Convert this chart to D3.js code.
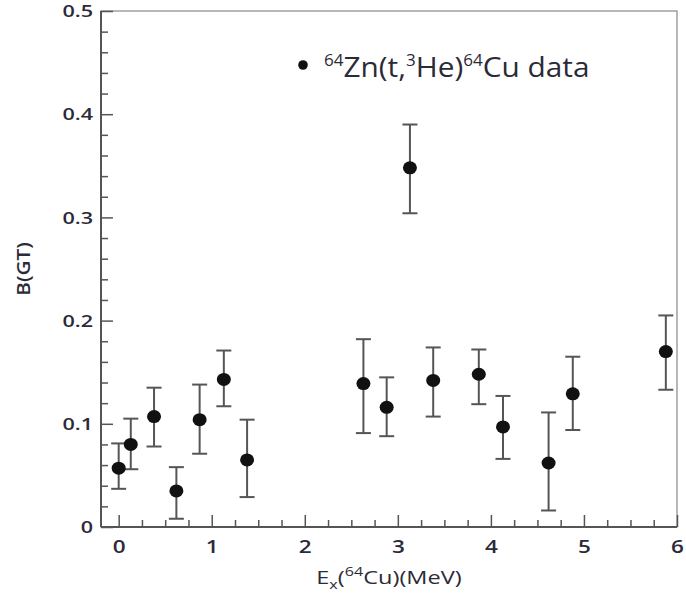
<!DOCTYPE html>
<html><head><meta charset="utf-8">
<script src="https://cdn.jsdelivr.net/npm/d3@7"></script>
<style>body{margin:0;background:#fff;} svg{display:block;}</style>
</head><body>
<svg id="c" width="686" height="594"></svg>
<script>
// Data: excitation energy (MeV), B(GT), upper/lower error ends
const ex      = [0.00, 0.13, 0.38, 0.62, 0.87, 1.13, 1.38, 2.63, 2.88, 3.13, 3.38, 3.87, 4.13, 4.62, 4.88, 5.88];
const bgt     = [0.057, 0.080, 0.107, 0.035, 0.104, 0.143, 0.065, 0.139, 0.116, 0.348, 0.142, 0.148, 0.097, 0.062, 0.129, 0.170];
const errHigh = [0.081, 0.105, 0.135, 0.058, 0.138, 0.171, 0.104, 0.182, 0.145, 0.390, 0.174, 0.172, 0.127, 0.111, 0.165, 0.205];
const errLow  = [0.037, 0.056, 0.078, 0.008, 0.071, 0.117, 0.029, 0.091, 0.088, 0.304, 0.107, 0.119, 0.066, 0.016, 0.094, 0.133];
const xTicks = [0, 1, 2, 3, 4, 5, 6];
const yTicks = [0, 0.1, 0.2, 0.3, 0.4, 0.5];

const svg = d3.select("#c");
const L = 101, R = 677, T = 11, B = 527;
const x = d3.scaleLinear().domain([-0.19, 6]).range([L, R]);
const y = d3.scaleLinear().domain([0, 0.5]).range([B, T]);
const font = "'Open Sans', 'Noto Sans', sans-serif";
const axisCol = "#555";
const txtCol = "#2b2b38";

// frame
svg.append("rect").attr("x", L).attr("y", T).attr("width", R - L).attr("height", B - T)
  .attr("fill", "none").attr("stroke", "#888").attr("stroke-width", 1.2);
svg.append("line").attr("x1", L).attr("x2", L).attr("y1", T).attr("y2", B).attr("stroke", axisCol).attr("stroke-width", 2);
svg.append("line").attr("x1", L).attr("x2", R).attr("y1", B).attr("y2", B).attr("stroke", axisCol).attr("stroke-width", 2);

// y axis ticks (inward)
const yAxis = d3.axisRight(y).tickValues(yTicks).tickSize(12).tickFormat("");
const gy = svg.append("g").attr("transform", `translate(${L},0)`).call(yAxis);
gy.select(".domain").remove();
gy.selectAll("line").attr("stroke", axisCol).attr("stroke-width", 1.5);
const yMinor = d3.axisRight(y).tickValues(d3.range(0, 0.5001, 0.02).filter(v => Math.abs(v * 10 - Math.round(v * 10)) > 1e-6)).tickSize(7).tickFormat("");
const gym = svg.append("g").attr("transform", `translate(${L},0)`).call(yMinor);
gym.select(".domain").remove();
gym.selectAll("line").attr("stroke", axisCol).attr("stroke-width", 1.5);
gy.selectAll(".tick").append("text").attr("transform", "translate(-8,0) scale(1.35,1)").attr("dy", "0.36em")
  .attr("text-anchor", "end").attr("fill", txtCol).style("font-family", font).style("font-size", "16px")
  .style("font-weight", 600)
  .text(d => d === 0 ? "0" : d3.format(".1f")(d));

// x axis ticks (inward)
const xAxis = d3.axisTop(x).tickValues(xTicks).tickSize(12).tickFormat("");
const gx = svg.append("g").attr("transform", `translate(0,${B})`).call(xAxis);
gx.select(".domain").remove();
gx.selectAll("line").attr("stroke", axisCol).attr("stroke-width", 1.5);
const xMinor = d3.axisTop(x).tickValues(d3.range(0, 6, 0.25).filter(v => v % 1 !== 0)).tickSize(7).tickFormat("");
const gxm = svg.append("g").attr("transform", `translate(0,${B})`).call(xMinor);
gxm.select(".domain").remove();
gxm.selectAll("line").attr("stroke", axisCol).attr("stroke-width", 1.5);
gx.selectAll(".tick").append("text").attr("transform", "translate(0,26) scale(1.25,1)")
  .attr("text-anchor", "middle").attr("fill", txtCol).style("font-family", font).style("font-size", "18px")
  .style("font-weight", 600)
  .text(d => d);

// axis titles
svg.append("text").attr("transform", "translate(30,269) rotate(-90) scale(1.15,1)").attr("text-anchor", "middle")
  .attr("fill", txtCol).style("font-family", font).style("font-size", "18px").style("font-weight", 600).text("B(GT)");
const xt = svg.append("text").attr("transform", "translate(389,584) scale(1.24,1)").attr("text-anchor", "middle")
  .attr("fill", txtCol).style("font-family", font).style("font-size", "19px").style("font-weight", 500);
xt.append("tspan").text("E");
xt.append("tspan").attr("dy", 5).style("font-size", "13px").text("x");
xt.append("tspan").attr("dy", -5).text("(");
xt.append("tspan").attr("dy", -8).style("font-size", "13px").text("64");
xt.append("tspan").attr("dy", 8).text("Cu)(MeV)");

// data
const data = ex.map((e, i) => ({e, v: bgt[i], hi: errHigh[i], lo: errLow[i]}));
const errCol = "#555", cap = 7.5;
const g = svg.append("g");
g.selectAll(".eb").data(data).join("line").attr("class", "eb")
  .attr("x1", d => x(d.e)).attr("x2", d => x(d.e)).attr("y1", d => y(d.hi)).attr("y2", d => y(d.lo))
  .attr("stroke", errCol).attr("stroke-width", 2);
g.selectAll(".ct").data(data).join("line").attr("class", "ct")
  .attr("x1", d => x(d.e) - cap).attr("x2", d => x(d.e) + cap).attr("y1", d => y(d.hi)).attr("y2", d => y(d.hi))
  .attr("stroke", errCol).attr("stroke-width", 2);
g.selectAll(".cb").data(data).join("line").attr("class", "cb")
  .attr("x1", d => x(d.e) - cap).attr("x2", d => x(d.e) + cap).attr("y1", d => y(d.lo)).attr("y2", d => y(d.lo))
  .attr("stroke", errCol).attr("stroke-width", 2);
g.selectAll(".pt").data(data).join("ellipse").attr("class", "pt")
  .attr("cx", d => x(d.e)).attr("cy", d => y(d.v)).attr("rx", 7).attr("ry", 6.5).attr("fill", "#111");

// legend
svg.append("circle").attr("cx", 303).attr("cy", 65).attr("r", 4.8).attr("fill", "#111");
const lt = svg.append("text").attr("transform", "translate(324,77) scale(1.065,1)").attr("fill", txtCol)
  .style("font-family", font).style("font-size", "28px");
lt.append("tspan").attr("dy", -11).style("font-size", "16px").text("64");
lt.append("tspan").attr("dy", 11).text("Zn(t,");
lt.append("tspan").attr("dy", -11).style("font-size", "16px").text("3");
lt.append("tspan").attr("dy", 11).text("He)");
lt.append("tspan").attr("dy", -11).style("font-size", "16px").text("64");
lt.append("tspan").attr("dy", 11).text("Cu data");
</script>
</body></html>
